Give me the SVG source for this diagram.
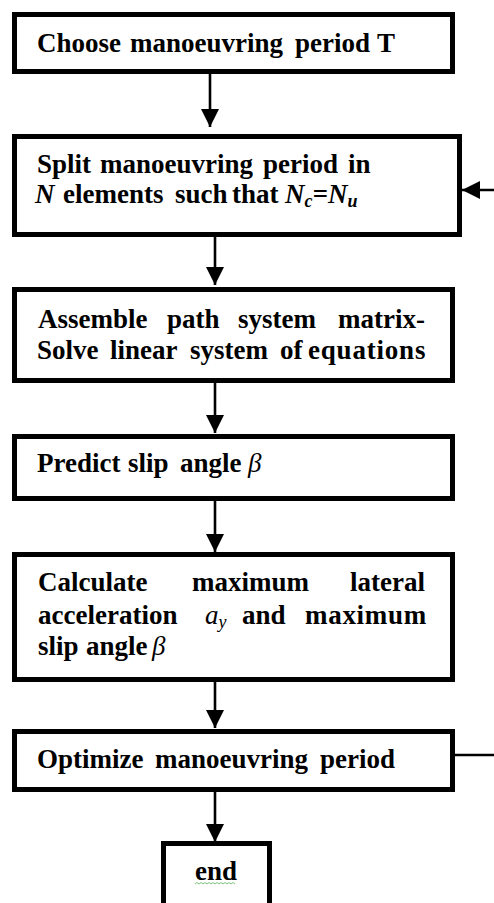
<svg xmlns="http://www.w3.org/2000/svg" width="494" height="903" viewBox="0 0 494 903">
<defs>
<style>
.box{fill:#fff;stroke:#000;stroke-width:5}
.t{font-family:"Liberation Serif","Times New Roman",serif;font-size:27px;font-weight:bold;fill:#000}
.it{font-style:italic}
.nb{font-weight:normal}
.sub{font-size:18px}
.conn{fill:none;stroke:#000;stroke-width:2.6}
</style>
<marker id="ah" markerUnits="userSpaceOnUse" markerWidth="18" markerHeight="18" viewBox="0 0 16 16" refX="16" refY="8" orient="auto">
<path d="M0,0 L16,8 L0,16 Z" fill="#000"/>
</marker>
</defs>
<rect width="494" height="903" fill="#fff"/>
<g id="connectors">
<line class="conn" x1="210" y1="74" x2="210" y2="127" marker-end="url(#ah)"/>
<line class="conn" x1="215" y1="237" x2="215" y2="285" marker-end="url(#ah)"/>
<line class="conn" x1="215" y1="383" x2="215" y2="433" marker-end="url(#ah)"/>
<line class="conn" x1="215" y1="501" x2="215" y2="552" marker-end="url(#ah)"/>
<line class="conn" x1="215" y1="682" x2="215" y2="728" marker-end="url(#ah)"/>
<line class="conn" x1="215" y1="792" x2="215" y2="842" marker-end="url(#ah)"/>
<path class="conn" d="M455,755 H500 V190 H462" marker-end="url(#ah)"/>
</g>
<g id="n1">
<rect class="box" x="14.5" y="14.5" width="438" height="57"/>
<text class="t" y="52"><tspan x="37">Choose</tspan><tspan x="130">manoeuvring</tspan><tspan x="295">period</tspan><tspan x="377">T</tspan></text>
</g>
<g id="n2">
<rect class="box" x="14.5" y="136.5" width="445" height="98"/>
<text class="t" y="173"><tspan x="37">Split</tspan><tspan x="100">manoeuvring</tspan><tspan x="263">period</tspan><tspan x="348">in</tspan></text>
<text class="t" y="203"><tspan x="35" class="it">N</tspan><tspan x="63">elements</tspan><tspan x="175">such</tspan><tspan x="232">that</tspan><tspan x="285" class="it">N</tspan><tspan class="it sub" dy="4">c</tspan><tspan class="it" dy="-4">=N</tspan><tspan class="it sub" dy="4">u</tspan></text>
</g>
<g id="n3">
<rect class="box" x="14.5" y="289.5" width="438" height="91"/>
<text class="t" y="328"><tspan x="38">Assemble</tspan><tspan x="167">path</tspan><tspan x="238">system</tspan><tspan x="338">matrix-</tspan></text>
<text class="t" y="359"><tspan x="37">Solve</tspan><tspan x="110">linear</tspan><tspan x="190">system</tspan><tspan x="280">of</tspan><tspan x="308" letter-spacing="0.8">equations</tspan></text>
</g>
<g id="n4">
<rect class="box" x="14.5" y="436.5" width="438" height="62"/>
<text class="t" y="472"><tspan x="37">Predict</tspan><tspan x="128">slip</tspan><tspan x="180">angle</tspan><tspan x="248" class="it nb">β</tspan></text>
</g>
<g id="n5">
<rect class="box" x="14.5" y="554.5" width="438" height="125"/>
<text class="t" y="591"><tspan x="38">Calculate</tspan><tspan x="192">maximum</tspan><tspan x="350">lateral</tspan></text>
<text class="t" y="624"><tspan x="38">acceleration</tspan><tspan x="205" class="it nb">a</tspan><tspan class="it nb sub" dy="4">y</tspan><tspan x="242" dy="-4">and</tspan><tspan x="305" letter-spacing="0.7">maximum</tspan></text>
<text class="t" y="655"><tspan x="38">slip</tspan><tspan x="86">angle</tspan><tspan x="152" class="it nb">β</tspan></text>
</g>
<g id="n6">
<rect class="box" x="14.5" y="731.5" width="438" height="58"/>
<text class="t" y="768"><tspan x="37">Optimize</tspan><tspan x="155">manoeuvring</tspan><tspan x="320">period</tspan></text>
</g>
<g id="n7">
<rect class="box" x="163.5" y="843.5" width="106" height="80"/>
<text class="t" x="195" y="880">end</text>
<path d="M195,884 l2,-1.5 l2,1.5 l2,-1.5 l2,1.5 l2,-1.5 l2,1.5 l2,-1.5 l2,1.5 l2,-1.5 l2,1.5 l2,-1.5 l2,1.5 l2,-1.5 l2,1.5 l2,-1.5 l2,1.5 l2,-1.5 l2,1.5 l2,-1.5 l2,1.5" fill="none" stroke="#7cc47c" stroke-width="1"/>
</g>
</svg>
